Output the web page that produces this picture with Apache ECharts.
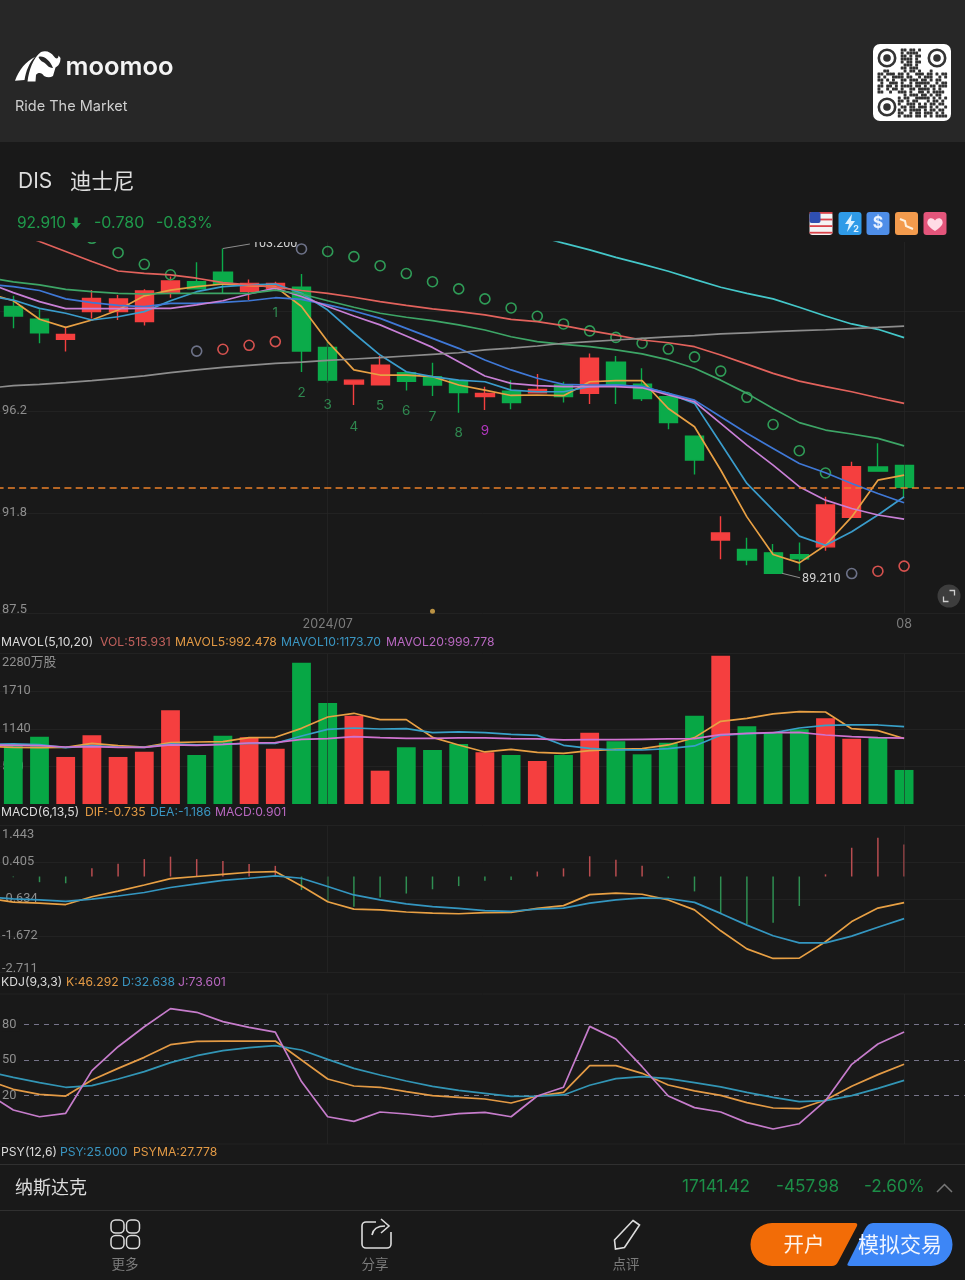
<!DOCTYPE html>
<html><head><meta charset="utf-8">
<style>html,body{margin:0;padding:0;background:#191919}#c{width:965px;height:1280px}</style>
<script src="https://cdn.jsdelivr.net/npm/echarts@6/dist/echarts.min.js"></script>
</head><body><div id="c"></div>
<script>
// ---- categories: one lead-in slot off the left edge, 35 sessions, two empty slots on the right
const categories = ['', '','','','','','','','','','','','','2024/07','','','','','','','','','','','','','','','','','','','','','','08','',''];
// ---- candles (35 sessions)
const opens  = [100.70,100.15,99.29,100.48,100.48,100.05,101.27,101.77,102.18,101.36,101.46,101.53,98.94,97.36,97.33,97.85,97.68,97.51,96.82,97.05,96.99,97.32,96.96,98.30,97.35,96.82,95.12,90.64,90.24,90.09,90.01,90.35,91.62,93.79,93.86];
const closes = [100.29,99.57,99.50,101.05,101.03,101.37,101.80,101.46,101.66,101.70,101.70,98.78,97.53,97.53,98.17,97.48,97.32,97.00,96.96,96.56,97.13,96.82,98.47,97.28,96.74,95.70,94.09,90.95,89.78,89.21,89.83,92.15,93.80,93.61,92.91];
const lows   = [99.76,99.12,98.76,100.19,100.12,99.88,101.08,101.44,101.24,100.98,101.37,97.88,97.42,96.46,97.33,97.08,96.85,96.13,96.24,96.28,96.97,96.57,96.50,96.50,96.63,95.41,93.47,89.81,89.56,89.21,89.32,90.18,91.62,93.61,92.51];
const highs  = [101.17,100.58,99.83,101.41,101.20,101.44,101.99,102.61,103.20,101.87,101.77,102.10,99.19,97.53,98.57,97.85,98.28,97.51,97.25,97.53,97.79,97.46,98.68,98.57,98.04,96.82,95.12,91.67,90.74,90.47,90.54,92.51,94.01,94.81,93.86];
// ---- price overlays (lead-in value + 35 sessions)
const maOrange = [101.27,100.95,100.15,99.80,100.12,100.55,101.16,101.41,101.56,101.67,101.60,101.56,100.70,99.19,97.97,97.75,97.75,97.68,97.32,97.10,96.87,96.89,96.86,97.46,97.51,97.51,96.31,95.52,93.66,91.64,90.02,89.66,90.42,91.64,93.22,93.44];
const maLightBlue = [101.17,100.98,100.62,100.41,100.12,100.26,100.48,100.95,101.34,101.56,101.63,101.67,101.27,100.55,99.55,98.61,97.89,97.68,97.53,97.46,97.10,97.03,97.03,97.25,97.32,97.25,96.96,96.53,94.81,93.08,91.93,90.81,90.42,91.00,91.72,92.51];
const maPink = [101.73,101.30,100.91,100.61,100.61,100.61,100.62,100.62,100.77,100.95,101.24,101.49,101.13,100.70,100.29,99.91,99.43,98.94,98.32,97.71,97.39,97.29,97.25,97.25,97.25,97.20,96.89,96.60,95.67,94.73,93.87,92.94,92.36,92.00,91.72,91.54];
const maBlue = [101.67,101.56,101.39,101.03,100.87,100.75,100.70,100.84,100.84,100.88,100.95,101.08,101.01,100.77,100.51,100.19,99.76,99.33,98.90,98.40,97.97,97.61,97.35,97.32,97.32,97.25,96.96,96.67,95.95,95.24,94.59,93.94,93.54,93.08,92.65,92.25];
const maGreen = [101.95,101.76,101.63,101.44,101.34,101.27,101.24,101.27,101.27,101.27,101.27,101.41,101.24,100.95,100.67,100.41,100.24,100.09,99.91,99.69,99.40,99.19,99.07,98.97,98.83,98.66,98.40,98.04,97.53,96.96,96.31,95.70,95.38,95.21,95.02,94.70];
const maRed = [104.36,103.93,103.50,103.07,102.64,102.23,102.13,102.06,101.92,101.73,101.63,101.53,101.39,101.27,101.10,100.91,100.75,100.60,100.48,100.34,100.15,100.05,99.88,99.66,99.47,99.26,99.14,98.97,98.61,98.22,97.82,97.49,97.25,97.03,96.77,96.53];
const maCyan = [null,null,null,null,null,null,null,null,null,null,null,null,null,null,null,null,null,null,null,null,104.07,103.74,103.43,103.14,102.82,102.53,102.22,101.87,101.53,101.27,101.03,100.67,100.29,99.95,99.72,99.36];
const maGray = [97.18,97.29,97.35,97.42,97.51,97.61,97.71,97.85,97.97,98.08,98.17,98.25,98.31,98.38,98.44,98.50,98.57,98.64,98.71,98.83,98.91,99.00,99.12,99.19,99.26,99.33,99.39,99.45,99.52,99.57,99.62,99.66,99.70,99.75,99.80,99.86];
// ---- stop-and-reverse circles (session 0..34): value and kind: 0 green, 1 red, 2 neutral
const sarValues = [null,null,null,103.64,103.02,102.52,102.07,98.78,98.86,99.03,99.19,103.18,103.07,102.85,102.46,102.12,101.77,101.46,101.03,100.64,100.28,99.95,99.65,99.37,99.12,98.87,98.53,97.92,96.79,95.62,94.49,93.53,89.20,89.30,89.52];
const sarKinds  = [0,0,0,0,0,0,0,2,1,1,1,2,0,0,0,0,0,0,0,0,0,0,0,0,0,0,0,0,0,0,0,0,2,1,1];
// ---- sequence digits
const seqSessions = [10,11,12,13,14,15,16,17,18];
const seqValues = [100.41,96.99,96.46,95.52,96.43,96.20,95.95,95.24,95.34];
const seqDigits = ['1','2','3','4','5','6','7','8','9'];
// ---- volume (sessions 0..34)
const volume = [894,1020,713,1041,713,793,1420,743,1035,1011,838,2142,1531,1339,505,860,819,910,784,743,652,743,1081,951,753,929,1339,2248,1178,1072,1132,1299,990,1011,515.931];
const mavol5 = [870,859,854,859,920,885,864,930,940,945,1006,1011,1147,1319,1375,1279,1279,1011,895,789,829,784,768,809,829,839,895,1006,1253,1299,1365,1400,1395,1142,1112,992.478];
const mavol10 = [905,910,900,854,885,864,859,910,895,905,920,920,1031,1132,1152,1137,1142,1082,1092,1082,1056,1041,890,844,819,819,839,880,1041,1067,1077,1152,1193,1198,1198,1173.70];
const mavol20 = [895,890,885,864,869,859,859,895,890,905,925,930,981,991,1021,1006,996,996,1001,1001,991,986,971,976,976,981,986,991,1051,1072,1082,1087,1046,1021,1006,999.778];
// ---- MACD
const macdHist = [-0.02,-0.16,-0.19,0.23,0.36,0.49,0.56,0.49,0.44,0.35,0.30,-0.38,-0.71,-0.85,-0.59,-0.48,-0.36,-0.27,-0.12,-0.10,0.14,0.23,0.57,0.47,0.30,-0.05,-0.42,-1.06,-1.34,-1.30,-0.83,0.06,0.81,1.09,0.901];
const dif = [-0.61,-0.72,-0.75,-0.79,-0.57,-0.41,-0.24,-0.06,0.00,0.06,0.12,0.14,-0.27,-0.71,-0.92,-0.94,-1.00,-1.03,-1.05,-1.02,-1.01,-0.90,-0.82,-0.51,-0.47,-0.50,-0.66,-0.94,-1.53,-2.04,-2.31,-2.30,-1.84,-1.27,-0.89,-0.735];
const dea = [-0.58,-0.63,-0.66,-0.70,-0.64,-0.55,-0.45,-0.31,-0.21,-0.11,-0.05,0.02,-0.05,-0.28,-0.52,-0.66,-0.77,-0.85,-0.90,-0.96,-0.98,-0.92,-0.89,-0.75,-0.66,-0.60,-0.62,-0.73,-1.04,-1.37,-1.67,-1.87,-1.87,-1.68,-1.43,-1.186];
// ---- KDJ
const kLine = [33.0,25.1,20.8,19.4,33.0,42.8,52.1,62.8,65.6,65.9,65.9,65.9,49.9,33.8,27.9,26.8,23.1,19.7,18.3,16.9,13.5,19.4,22.5,45.1,45.1,38.6,28.7,23.7,20.0,13.8,9.3,8.7,16.0,27.6,37.5,46.292];
const dLine = [40.0,35.2,30.7,26.8,28.2,33.8,40.0,47.6,53.5,57.8,60.3,62.0,58.3,50.4,42.8,37.2,32.1,27.6,24.2,21.7,19.1,19.4,20.3,28.5,34.1,35.8,34.1,30.7,27.1,22.5,18.3,14.6,15.5,19.7,25.9,32.638];
const jLine = [21.7,7.6,1.9,4.8,40.9,61.1,78.0,93.3,90.2,82.3,77.5,73.5,31.6,1.9,-2.0,5.9,4.2,1.9,4.5,5.6,1.9,19.4,26.8,78.3,67.6,44.2,19.4,9.6,5.9,-3.1,-8.5,-4.0,15.5,46.2,63.4,73.601];
// ---- axis ticks
const priceTicks = [87.5,91.8,96.2,100.5];
const priceLabels = [87.5,91.8,96.2];
const volTicks = [570,1140,1710,2280];
const macdTicks = [-2.711,-1.672,-0.634,0.405,1.443];
const kdjTicks = [20,50,80];
const lastClose = 92.91;
const eventDot = [[17,87.58]];

const F = 'Inter, "Noto Sans CJK SC", sans-serif';
const AX = 'Roboto, "Noto Sans CJK SC", sans-serif';
const CJK = '"Noto Sans CJK SC", sans-serif';
const RED = '#f53f3f', GRN = '#0bab4a';
const GRID = '#222222';
const col = {orange:'#e8a044',lblue:'#3a9ccb',blue:'#3f78d6',pink:'#c87fd6',green:'#3da566',red:'#e2625c',cyan:'#44c7c9',gray:'#8d8d8d'};
const gridW = 995.6, gridL = -26;
const gridBase = {left:gridL,width:gridW,show:true,outerBoundsMode:'none',containLabel:false,borderColor:GRID,borderWidth:0,backgroundColor:'transparent'};
const grids = [
  Object.assign({},gridBase,{top:242,height:371}),
  Object.assign({},gridBase,{top:653.6,height:150.4}),
  Object.assign({},gridBase,{top:825.3,height:147.4}),
  Object.assign({},gridBase,{top:994,height:150,borderWidth:1})
];
function xA(i,labels){return {type:'category',gridIndex:i,data:categories,boundaryGap:true,z:3,
  axisLine:{show:false},axisTick:{show:false,alignWithLabel:true},
  axisLabel:{show:labels,interval:0,margin:5,color:'#7d7d7d',fontFamily:F,fontSize:12.5,hideOverlap:false},
  splitLine:{show:true,alignWithLabel:true,interval:(idx,v)=>v!=='',lineStyle:{color:'rgba(40,40,40,0.6)',width:1}}};}
function yA(i,min,max,ticks,labels,extra){
  return {type:'value',gridIndex:i,min,max,scale:true,position:'left',offset:-27,z:0,
  axisLine:{show:false},axisTick:{show:false,customValues:ticks},
  axisLabel:Object.assign({inside:true,margin:1,padding:[3,0,-3,0],customValues:labels,color:'#8f8f8f',fontFamily:AX,fontSize:12.8,showMinLabel:true,showMaxLabel:true},extra.label||{}),
  splitLine:{show:true,lineStyle:Object.assign({color:GRID,width:1},extra.split||{})}};}
const lead = a => ['-'].concat(a);
const line = (name,i,data,color,w) => ({name,type:'line',xAxisIndex:i,yAxisIndex:i,data:data.map(v=>v==null?'-':v),symbol:'none',smooth:false,clip:true,z:4,lineStyle:{color,width:w||1.7},itemStyle:{color},silent:true});

const candleData = lead(opens).map((o,i)=> i===0?['-','-','-','-']:[o,closes[i-1],lows[i-1],highs[i-1]]);
const volData = lead(volume).map((v,i)=> i===0?'-':({value:v,itemStyle:{color:closes[i-1]>=opens[i-1]?RED:'#07a745'}}));
const histData = lead(macdHist).map((v,i)=> i===0?'-':({value:v,itemStyle:{color:v>=0?'#b84d50':'#2f8f52'}}));
const sarColor = ['#2f9c57','#d6524f','#6d7288'];
const sarData = sarValues.map((v,i)=>v==null?null:[i+1,v,sarKinds[i]]).filter(Boolean);

const extremes = [[9,103.2,'103.200',-1],[30,89.21,'89.210',1]];

const series = [
 {name:'K线',type:'candlestick',xAxisIndex:0,yAxisIndex:0,data:candleData,barWidth:18.7,z:2,silent:true,
  itemStyle:{color:RED,color0:GRN,borderColor:RED,borderColor0:GRN,borderWidth:1.4},
  markLine:{silent:true,symbol:'none',label:{show:false},z:5,lineStyle:{color:'#ea8029',type:[7,4.3],width:1.6},data:[{yAxis:lastClose}]}},
 line('MA5',0,maOrange,col.orange), line('MA10',0,maLightBlue,col.lblue), line('MA20',0,maBlue,col.blue),
 line('MA30',0,maPink,col.pink), line('MA60',0,maGreen,col.green), line('MA120',0,maRed,col.red),
 line('MA250',0,maCyan,col.cyan), line('MA200',0,maGray,col.gray),
 {name:'SAR',type:'custom',xAxisIndex:0,yAxisIndex:0,clip:true,z:3,silent:true,data:sarData,encode:{x:0,y:1},
  renderItem(p,api){const c=api.coord([api.value(0),api.value(1)]);
    return {type:'circle',shape:{cx:c[0],cy:c[1],r:5},style:{fill:'none',stroke:sarColor[api.value(2)],lineWidth:1.6}};}},
 {name:'序列',type:'scatter',xAxisIndex:0,yAxisIndex:0,symbolSize:0,z:5,silent:true,
  data:seqValues.map((v,i)=>({value:[seqSessions[i]+1,v],label:{color:i===8?'#d83ee8':'#35a35c'}})),
  label:{show:true,position:'inside',formatter:p=>seqDigits[p.dataIndex],fontFamily:F,fontSize:13.5}},
 {name:'极值',type:'custom',xAxisIndex:0,yAxisIndex:0,clip:true,z:6,silent:true,data:extremes.map(e=>[e[0],e[1],e[3]]),encode:{x:0,y:1},
  renderItem(p,api){const c=api.coord([api.value(0),api.value(1)]),up=api.value(2)<0,d=extremes[p.dataIndex];
    const x0=c[0]+(up?0:9),x1=c[0]+27,y1=c[1]+(up?-4.5:4.5);
    return {type:'group',children:[
      {type:'polyline',shape:{points:[[x0,c[1]],[x1,y1]]},style:{fill:'none',stroke:'#8d8d8d',lineWidth:1}},
      {type:'text',style:{text:d[2],x:x1+2,y:y1+(up?0:1),fill:'#d2d2d2',font:'12.5px '+AX,align:'left',verticalAlign:'middle'}}]};}},
 {name:'事件',type:'scatter',xAxisIndex:0,yAxisIndex:0,data:eventDot,symbolSize:5,silent:true,itemStyle:{color:'#e4b04e'},z:5},

 {name:'VOL',type:'bar',xAxisIndex:1,yAxisIndex:1,data:volData,barWidth:18.8,z:2,silent:true},
 line('MAVOL5',1,mavol5,'#e8a044'), line('MAVOL10',1,mavol10,'#38a0c8'), line('MAVOL20',1,mavol20,'#cf73d0'),

 {name:'MACD',type:'bar',xAxisIndex:2,yAxisIndex:2,data:histData,barWidth:1.5,z:2,silent:true},
 line('DIF',2,dif,'#e8a044'), line('DEA',2,dea,'#3496c0'),

 line('K',3,kLine,'#e39a45'), line('D',3,dLine,'#3295b5'), line('J',3,jLine,'#c67ccb')
];

// ---- page furniture
const G = [];
let pathCount = 0;
const txt=(text,x,y,fill,size,family,align,weight)=>G.push({type:'text',silent:true,style:{text,x,y,fill,font:(weight||'normal')+' '+size+'px '+(family||F),align:align||'left',verticalAlign:'middle'}});
const rect=(x,y,w,h,fill,r)=>G.push({type:'rect',silent:true,shape:{x,y,width:w,height:h,r:r||0},style:{fill}});
const path=(d,style)=>{const name='furn'+(pathCount++);
  echarts.graphic.registerShape(name,echarts.graphic.extendPath(d,{}));
  G.push({type:name,silent:true,style});};
rect(0,0,965,142,'#272727');
// logo
path('M15 80.700L24.500 80C26 71 29 63 35 57C26 61 19 70 15 80.700Z',{fill:'#fff'});
path('M27.500 81.500C29 70 33 58 41 52C46 50 51 52 54 56.500C56 59.500 58.500 59 58.500 55.500L60.500 58C60.500 63 58.500 66 55.500 67.500L53 76C50 78 47 77.500 44 76C42 72.500 38 72 36 75L35.500 81.500Z',{fill:'#fff'});
path('M38.500 57C43 55 50 60 53 68C48 68 47 64 43 62C41 61 39.500 59.500 38.500 57Z',{fill:'#272727'});
txt('moomoo',65.5,67,'#f4f4f4',25.5,F,'left','600');
txt('Ride The Market',15,106.5,'#cfcfcf',14.5);
// qr
rect(873,44,78,77,'#ffffff',7);
const qrRows=[
"........##.##.#.........","........#.####..........","........##.#.##.........","........####.#..........","........#.##.##.........",".........###.#..........","........##.###..........",
"..##.....#.##.#...#.....","##.###.##.#..###.##.#.##","#.#..####.##..#.###..#.#","##.#.#..##.###.##.#.##..",".#..###.#..#.#####..#.##","##.##.#.####.##.#.##.###","#..#.##.#..##.####.#.#..","##..#..###.#..##.#.####.",
".........#.###.##.#.##..",".......#.##..#####.#.#.#",".......##.#.##...#.##.#.",".......#..###.#.#.##.##.","........##.##.###.#.#..#",".......#.#.####.#.##.##.",".......##..#.##.###.#.#.",".......#.###.##.#.#.####"];
qrRows.forEach((r,j)=>r.split('').forEach((c,i)=>{if(c==='#')rect(877.5+i*2.9,48.5+j*3,2.9,3,'#333333',0.6);}));
[[887,58],[937,58],[887,107]].forEach(p=>{
  G.push({type:'circle',silent:true,shape:{cx:p[0],cy:p[1],r:8.2},style:{fill:'none',stroke:'#333',lineWidth:2.6}});
  G.push({type:'circle',silent:true,shape:{cx:p[0],cy:p[1],r:3.8},style:{fill:'#333'}});});
// title rows
txt('DIS',18,181.5,'#dedede',21);
txt('迪士尼',70,181,'#dedede',21.5,CJK);
txt('92.910',17,223.5,'#1f9a4b',15.5);
path('M74.300 217.500h3.400v5.500h3.300l-5 5.800l-5-5.800h3.300z',{fill:'#1f9a4b'});
txt('-0.780',94,223.5,'#1f9a4b',16);
txt('-0.83%',156,223.5,'#1f9a4b',16);
// badges
rect(809.5,212,23,23,'#f4f4f4',3);
['#d9434a',0,'#d9434a',0,'#d9434a',0,'#d9434a'].forEach((c,i)=>{if(c)rect(809.5,212+i*3.3,23,1.8,c);});
rect(809.5,212,11,11,'#2f4fb0',2);
rect(838.5,212,23,23,'#2f9be8',3);
path('M852 214l-7 10h4l-2 8l8-11h-4z',{fill:'#dff2ff'});
txt('2',856,229,'#dff2ff',9,F,'center','700');
rect(866.5,212,23,23,'#4e8ee8',3);
txt('$',878,223.5,'#eaf3ff',16,F,'center','700');
rect(895,212,23,23,'#f39b4d',3);
path('M900 219l5 2l1 5l7 3',{fill:'none',stroke:'#fff1df',lineWidth:2});
rect(923.5,212,23,23,'#e4557b',3);
path('M935 231C927 226 926.500 223 928 220C929.500 217.500 933 217.500 935 220.500C937 217.500 940.500 217.500 942 220C943.500 223 943 226 935 231Z',{fill:'#ffdbe5'});
// indicator headers
const hdr=(y,items)=>items.forEach(t=>txt(t[0],t[1],y,t[2],12.2));
hdr(642,[['MAVOL(5,10,20)',1,'#dcdcdc'],['VOL:515.931',100,'#c0605c'],['MAVOL5:992.478',175,'#e39a45'],['MAVOL10:1173.70',281,'#3a96c2'],['MAVOL20:999.778',386,'#b868c0']]);
hdr(812,[['MACD(6,13,5)',1,'#dcdcdc'],['DIF:-0.735',85,'#e39a45'],['DEA:-1.186',150,'#3a96c2'],['MACD:0.901',215,'#b868c0']]);
hdr(982,[['KDJ(9,3,3)',1,'#dcdcdc'],['K:46.292',66,'#e39a45'],['D:32.638',122,'#3a96c2'],['J:73.601',178,'#b868c0']]);
hdr(1152,[['PSY(12,6)',1,'#dcdcdc'],['PSY:25.000',60,'#3a96c2'],['PSYMA:27.778',133,'#e39a45']]);
// expand button
G.push({type:'circle',silent:true,shape:{cx:949,cy:596,r:11.5},style:{fill:'#3d3d3d'}});
path('M949.500 590.500h5v5M948.500 601.500h-5v-5',{fill:'none',stroke:'#cfcfcf',lineWidth:1.3});
// index ticker
rect(0,1164,965,1,'#303030');
rect(0,1210,965,1,'#303030');
txt('纳斯达克',15,1187,'#dcdcdc',18,CJK);
txt('17141.42',682,1187,'#1c8e47',17.2);
txt('-457.98',776,1187,'#1c8e47',17.2);
txt('-2.60%',864,1187,'#1c8e47',17.2);
path('M937 1192l7.500-7.500l7.500 7.500',{fill:'none',stroke:'#777',lineWidth:1.5});
// bottom bar
[[111,1220],[126.500,1220],[111,1235.500],[126.500,1235.500]].forEach(p=>G.push({type:'rect',silent:true,shape:{x:p[0],y:p[1],width:13,height:13,r:4.5},style:{fill:'none',stroke:'#dcdcdc',lineWidth:1.5}}));
txt('更多',125,1264,'#7b7b7b',13.5,CJK,'center');
path('M376 1222H366A4 4 0 0 0 362 1226V1244A4 4 0 0 0 366 1248H387A4 4 0 0 0 391 1244V1232',{fill:'none',stroke:'#dcdcdc',lineWidth:1.6});
path('M372 1235C373 1229 378 1226 385 1226M381 1219L389 1226L381 1233',{fill:'none',stroke:'#dcdcdc',lineWidth:1.6});
txt('分享',375,1264,'#7b7b7b',13.5,CJK,'center');
path('M633 1220.500L639.500 1225L624.500 1247.500L615.500 1249L614.500 1240Z',{fill:'none',stroke:'#dcdcdc',lineWidth:1.6});
txt('点评',626,1264,'#7b7b7b',13.5,CJK,'center');
path('M772 1223H855Q858 1223 857 1226L838 1262Q836 1266 832 1266H772A21.500 21.500 0 0 1 772 1223Z',{fill:'#f26c07'});
txt('开户',804,1244,'#fdf3ea',20.5,CJK,'center');
path('M931 1223A21.500 21.500 0 0 1 931 1266H850Q846 1266 848 1263L865 1229Q868 1223 873 1223Z',{fill:'#3d86f6'});
txt('模拟交易',900,1244,'#f0f5ff',21,CJK,'center');

const chart = echarts.init(document.getElementById('c'),null,{renderer:'canvas',width:965,height:1280});
chart.setOption({
  animation:false,backgroundColor:'#191919',tooltip:{show:false},legend:{show:false},
  grid:grids,
  xAxis:[xA(0,true),xA(1,false),xA(2,false),xA(3,false)],
  yAxis:[
    yA(0,87.5,103.48,priceTicks,priceLabels,{label:{verticalAlignMinLabel:'bottom'}}),
    yA(1,0,2280,volTicks,volTicks,{label:{verticalAlignMaxLabel:'top',formatter:v=>v===2280?'2280万股':String(v)}}),
    yA(2,-2.711,1.443,macdTicks,macdTicks,{label:{verticalAlignMinLabel:'bottom',verticalAlignMaxLabel:'top'}}),
    yA(3,-21.15,105.66,kdjTicks,kdjTicks,{split:{color:'#77748a',type:[5,5]},label:{backgroundColor:'#191919',padding:[2,3,-1,0]}})
  ],
  series,
  graphic:{elements:G}
});
</script></body></html>
